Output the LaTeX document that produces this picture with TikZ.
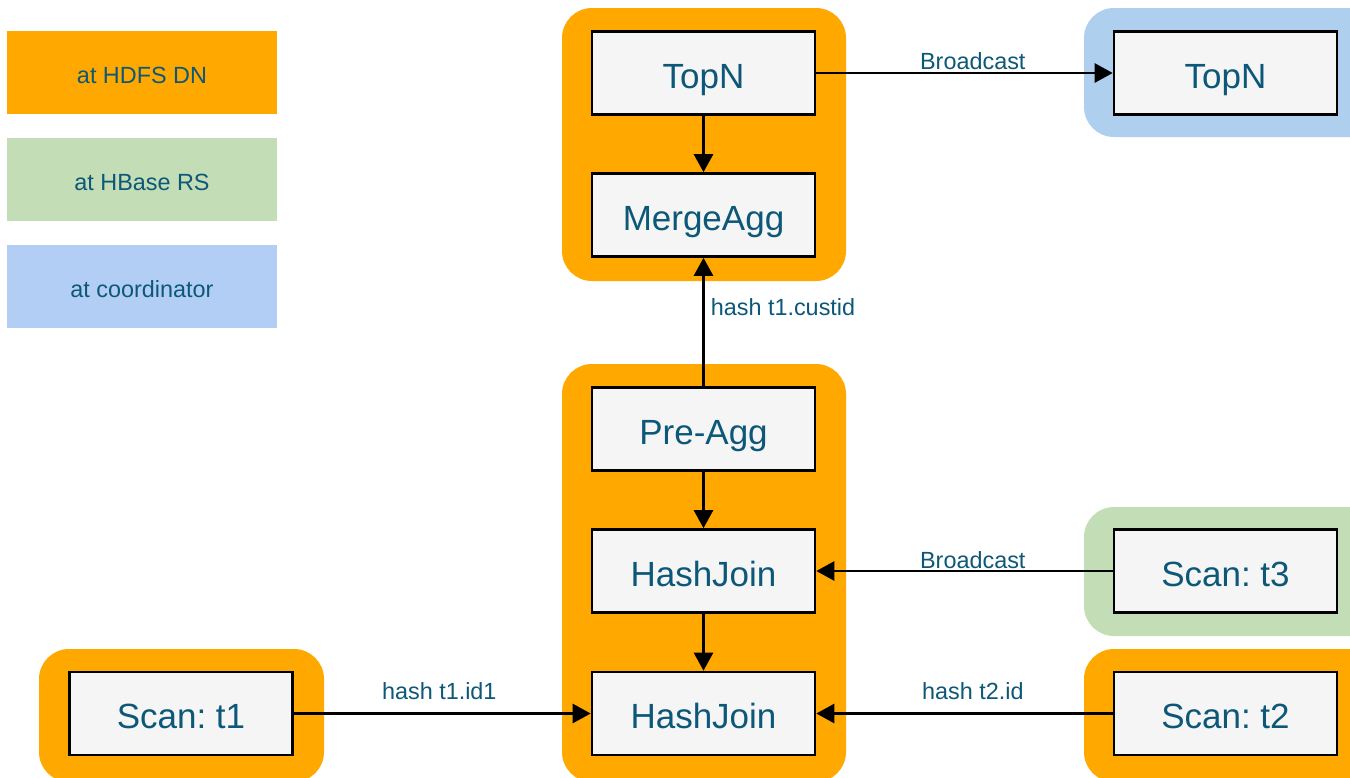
\documentclass[tikz,border=0pt]{standalone}
\usepackage{fontspec}
\setmainfont{Liberation Sans}
\usetikzlibrary{arrows.meta}
\frenchspacing

\definecolor{hdfs}{HTML}{FFA800}
\definecolor{hbase}{HTML}{C3DDB6}
\definecolor{coordbg}{HTML}{AECFEE}
\definecolor{coordkey}{HTML}{B3CEF5}
\definecolor{opfill}{HTML}{F5F5F5}
\definecolor{ink}{HTML}{0D5878}

\tikzset{
  group/.style={rounded corners=30pt, inner sep=0pt, draw=none},
  legendkey/.style={inner sep=0pt, minimum width=270pt, minimum height=83pt,
    text=ink, text height=22pt, text depth=0pt,
    font=\fontsize{23.4pt}{26pt}\selectfont},
  op/.style={draw=black, line width=2.6pt, fill=opfill, inner sep=0pt,
    minimum width=223pt, minimum height=83pt, text=ink,
    text height=30pt, text depth=0pt,
    font=\fontsize{35pt}{40pt}\selectfont},
  flow/.style={line width=2.6pt, -{Triangle[length=18pt,width=19pt]}},
  elabel/.style={text=ink, inner sep=0pt, font=\fontsize{23.4pt}{26pt}\selectfont}
}

\begin{document}
\begin{tikzpicture}[x=1pt,y=-1pt]
  \useasboundingbox (0,0) rectangle (1350,777);
  \clip (0,0) rectangle (1350,777);

  % legend
  \node[legendkey, fill=hdfs]     (keyHdfs)  at (142,72.5)  {at HDFS DN};
  \node[legendkey, fill=hbase]    (keyHbase) at (142,179.5) {at HBase RS};
  \node[legendkey, fill=coordkey] (keyCoord) at (142,286.5) {at coordinator};

  % placement groups
  \fill[hdfs, group]    (562,8)    rectangle (846,281);
  \fill[hdfs, group]    (562,364)  rectangle (846,782);
  \fill[coordbg, group] (1084,8)   rectangle (1380,137);
  \fill[hbase, group]   (1084,507) rectangle (1380,636);
  \fill[hdfs, group]    (1084,649) rectangle (1380,782);
  \fill[hdfs, group]    (39,649)   rectangle (324,782);

  % operators
  \node[op] (topn)      at (703.5,73)    {TopN};
  \node[op] (mergeagg)  at (703.5,215)   {MergeAgg};
  \node[op] (preagg)    at (703.5,429)   {Pre-Agg};
  \node[op] (hashjoinA) at (703.5,571)   {HashJoin};
  \node[op] (hashjoinB) at (703.5,713.5) {HashJoin};
  \node[op] (topnCoord) at (1225.5,73)   {TopN};
  \node[op] (scanT3)    at (1225.5,571)  {Scan: t3};
  \node[op] (scanT2)    at (1225.5,713.5){Scan: t2};
  \node[op] (scanT1)    at (181,713.5)   {Scan: t1};

  % data flow
  \draw[flow] (topn) -- (mergeagg);
  \draw[flow] (preagg) -- (hashjoinA);
  \draw[flow] (hashjoinA) -- (hashjoinB);
  \draw[flow] (preagg.north) -- (mergeagg.south)
    node[elabel, pos=0.55, anchor=base west, xshift=6pt] {hash t1.custid};
  \draw[flow] (topn.east) -- (topnCoord.west)
    node[elabel, pos=0.528, anchor=base, yshift=3.5pt] {Broadcast};
  \draw[flow] (scanT3.west) -- (hashjoinA.east)
    node[elabel, pos=0.472, anchor=base, yshift=3pt] {Broadcast};
  \draw[flow] (scanT2.west) -- (hashjoinB.east)
    node[elabel, pos=0.472, anchor=base, yshift=14pt] {hash t2.id};
  \draw[flow] (scanT1.east) -- (hashjoinB.west)
    node[elabel, pos=0.49, anchor=base, yshift=14pt] {hash t1.id1};
\end{tikzpicture}
\end{document}
